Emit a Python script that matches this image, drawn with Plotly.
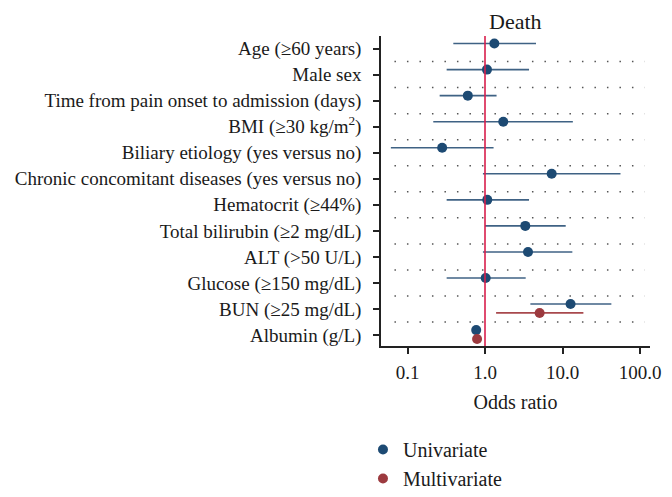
# forest plot: odds ratios for death, univariate vs multivariate
import plotly.graph_objects as go

factors = [
    "Age (≥60 years)",
    "Male sex",
    "Time from pain onset to admission (days)",
    "BMI (≥30 kg/m<sup>2</sup>)",
    "Biliary etiology (yes versus no)",
    "Chronic concomitant diseases (yes versus no)",
    "Hematocrit (≥44%)",
    "Total bilirubin (≥2 mg/dL)",
    "ALT (>50 U/L)",
    "Glucose (≥150 mg/dL)",
    "BUN (≥25 mg/dL)",
    "Albumin (g/L)",
]

uni_or = [1.32, 1.06, 0.60, 1.72, 0.28, 7.25, 1.07, 3.31, 3.59, 1.02, 12.7, 0.77]
uni_lo = [0.39, 0.32, 0.26, 0.215, 0.061, 0.94, 0.32, 1.00, 0.94, 0.32, 3.85, 0.76]
uni_hi = [4.55, 3.70, 1.41, 13.6, 1.29, 56.0, 3.70, 11.0, 13.4, 3.35, 42.7, 0.78]

multi_factors = ["BUN (≥25 mg/dL)", "Albumin (g/L)"]
multi_or = [5.07, 0.79]
multi_lo = [1.39, 0.78]
multi_hi = [18.6, 0.80]

x_ticks = [0.1, 1, 10, 100]
x_ticklabels = ["0.1", "1.0", "10.0", "100.0"]

FONT = "Liberation Serif"
BLUE = "#1d4a73"
BLUE_CI = "#3f6284"
RED = "#9c3a3f"
RED_CI = "#a8494d"

idx = {f: i for i, f in enumerate(factors)}
uni_y = [i - 0.19 for i in range(len(factors))]
multi_y = [idx[f] + 0.15 for f in multi_factors]

fig = go.Figure()
fig.add_trace(go.Scatter(
    x=uni_or, y=uni_y, mode="markers", name="Univariate",
    marker=dict(color=BLUE, size=10),
    error_x=dict(type="data", symmetric=False,
                 array=[h - o for h, o in zip(uni_hi, uni_or)],
                 arrayminus=[o - l for o, l in zip(uni_or, uni_lo)],
                 color=BLUE_CI, thickness=1.6, width=0),
))
fig.add_trace(go.Scatter(
    x=multi_or, y=multi_y, mode="markers", name="Multivariate",
    marker=dict(color=RED, size=10),
    error_x=dict(type="data", symmetric=False,
                 array=[h - o for h, o in zip(multi_hi, multi_or)],
                 arrayminus=[o - l for o, l in zip(multi_or, multi_lo)],
                 color=RED_CI, thickness=1.6, width=0),
))

# dotted separators between rows
for i in range(len(factors) - 1):
    fig.add_shape(type="line", xref="paper", yref="y", x0=0.05, x1=0.98,
                  y0=i + 0.5, y1=i + 0.5,
                  line=dict(color="#555555", width=1.5, dash="1.5px,11px"), layer="below")

# reference line at OR = 1
fig.add_shape(type="line", xref="x", yref="paper", x0=1, x1=1, y0=0, y1=1,
              line=dict(color="#d81e4c", width=1.6))

fig.add_annotation(text="Death", xref="paper", yref="paper", x=0.5, y=1,
                   xanchor="center", yanchor="bottom", showarrow=False,
                   font=dict(size=22))

fig.update_layout(
    width=672, height=497,
    margin=dict(l=381, r=22, t=36, b=151, autoexpand=False),
    paper_bgcolor="white", plot_bgcolor="white",
    font=dict(family=FONT, size=18, color="#1a1a1a"),
    showlegend=True,
    legend=dict(x=-0.067, y=-0.271, xanchor="left", yanchor="top",
                font=dict(size=20), bgcolor="rgba(0,0,0,0)"),
    xaxis=dict(type="log", range=[-1.342, 2.129], tickvals=x_ticks, ticktext=x_ticklabels,
               showline=True, linecolor="#222222", linewidth=1.5, ticks="outside",
               ticklen=6, tickwidth=1.5, tickcolor="#222222", showgrid=False, zeroline=False,
               ticklabelstandoff=2, automargin=False,
               title=dict(text="Odds ratio", standoff=13, font=dict(size=20)),
               tickfont=dict(size=19)),
    yaxis=dict(range=[11.42, -0.48], tickmode="array", tickvals=list(range(len(factors))),
               ticktext=factors, showline=True, linecolor="#222222", linewidth=1.5,
               ticks="outside", ticklen=6, tickwidth=1.5, tickcolor="#222222",
               ticklabelstandoff=8, automargin=False,
               showgrid=False, zeroline=False, tickfont=dict(size=19)),
)

# page body has a default 8px margin; drop it so the figure sits at the window corner
fig.write_html("out.html", config={"displayModeBar": False},
               post_script="document.body.style.margin='0';")
